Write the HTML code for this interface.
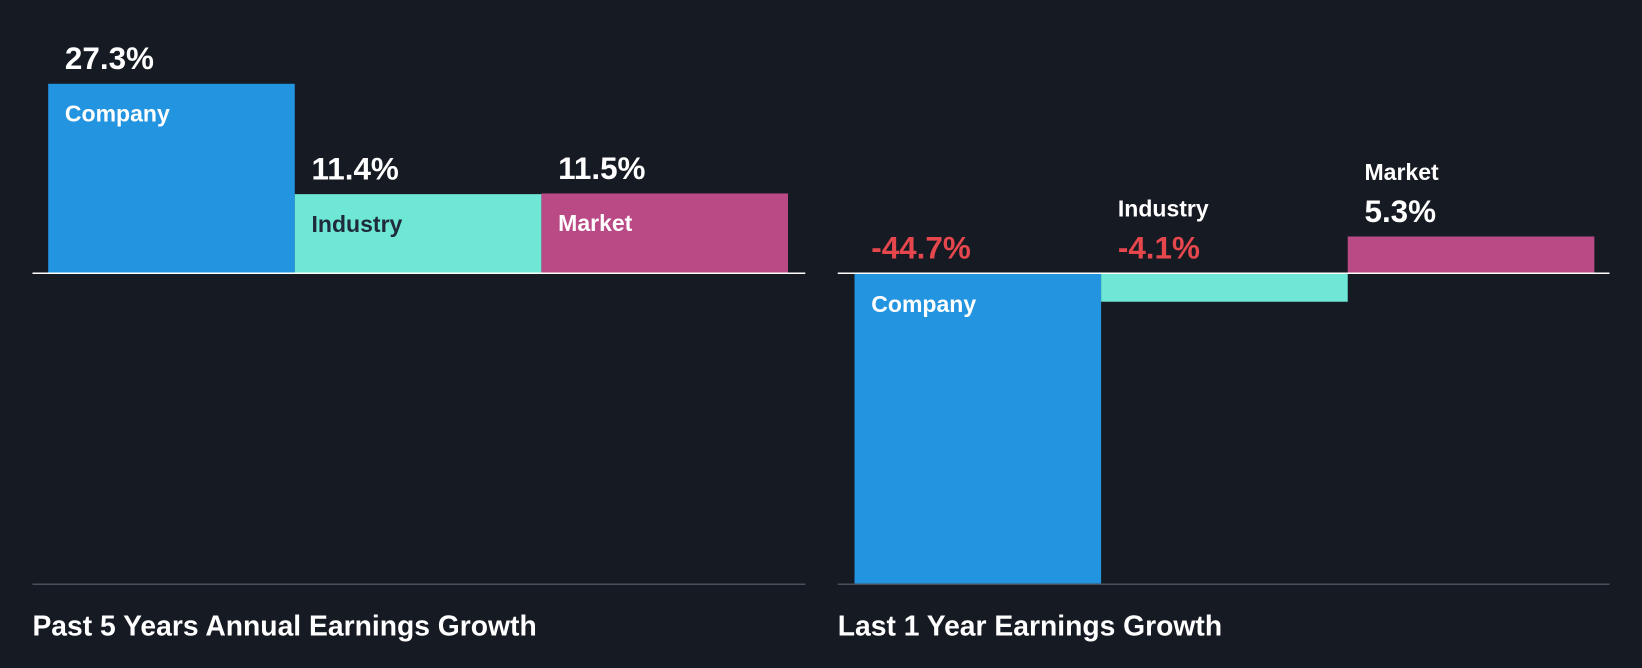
<!DOCTYPE html>
<html><head><meta charset="utf-8"><style>
html,body{margin:0;padding:0;background:#151a23;}
svg{display:block;font-family:"Liberation Sans",sans-serif;}
</style></head><body>
<svg id="c" width="1642" height="668" viewBox="0 0 1568 638" preserveAspectRatio="none">
<rect width="1568" height="638" fill="#151a23"/>
</svg>
<script>
const categories = ["Company","Industry","Market"];
const past5Values = [27.3, 11.4, 11.5];
const last1Values = [-44.7, -4.1, 5.3];
const panelTitles = ["Past 5 Years Annual Earnings Growth","Last 1 Year Earnings Growth"];
const colors = ["#2394e0","#6ee7d6","#b94a86"];
const textColors = ["#ffffff","#1f2a3a","#ffffff"];
const svg = document.getElementById('c');
const NS = 'http://www.w3.org/2000/svg';
const baseY = 261, scale = 6.63;
function y(v){ return baseY - v*scale; }
function mk(tag, attrs, parent){ const e=document.createElementNS(NS,tag); for(const k in attrs) e.setAttribute(k,attrs[k]); (parent||svg).appendChild(e); return e; }
function panel(values, x0, x1, barX, title, idx){
  const g = mk('g',{});
  
  
  const bw = 235.5;
  values.forEach((v,i)=>{
    const bx = barX + i*bw;
    const top = Math.min(y(v), baseY), h = Math.abs(y(v)-baseY);
    const r = mk('rect',{x:bx,y:top,width:bw,height:h,fill:colors[i]},g);
    
    
    const big = h > 50;
    const valTop = v >= 0 ? top : baseY;
    const vy = valTop - 14;
    const vt = mk('text',{x:bx+16,y:vy,fill:v<0?'#e5474d':'#ffffff','font-size':30,'font-weight':'bold'},g);
    vt.textContent = v.toFixed(1)+'%';
    
    
    let ny, nc;
    if(big){ ny = top + 36; nc = textColors[i]; }
    else { ny = vy - 40; nc = '#ffffff'; }
    if(big && v<0){ ny = baseY + 37; }
    const nt = mk('text',{x:bx+16,y:ny,fill:nc,'font-size':22,'font-weight':'bold'},g);
    nt.textContent = categories[i];
    
    
  });
  const bl = mk('line',{x1:x0,x2:x1,y1:baseY,y2:baseY,stroke:'#ffffff','stroke-width':1.5},g);
  
  
  const al = mk('line',{x1:x0,x2:x1,y1:558,y2:558,stroke:'#4a505a','stroke-width':1.5},g);
  
  
  const t = mk('text',{x:x0,y:607,fill:'#ffffff','font-size':27,'font-weight':'bold'},g);
  t.textContent = title;
  
  
}
panel(past5Values, 31, 769, 46, panelTitles[0], 0);
panel(last1Values, 800, 1537, 816, panelTitles[1], 1);
</script>
</body></html>
